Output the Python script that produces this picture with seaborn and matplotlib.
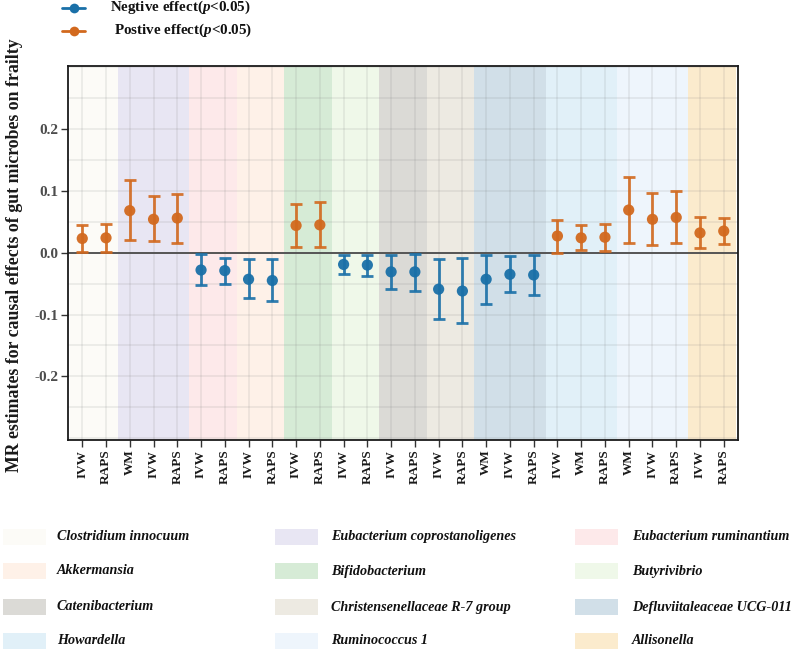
import matplotlib
matplotlib.use("Agg")
import matplotlib.pyplot as plt
import seaborn as sns
import numpy as np
import pandas as pd
from matplotlib.lines import Line2D
from matplotlib.patches import Rectangle

# ---------------- data ----------------
groups = ["Clostridium innocuum", "Eubacterium coprostanoligenes", "Eubacterium ruminantium",
          "Akkermansia", "Bifidobacterium", "Butyrivibrio",
          "Catenibacterium", "Christensenellaceae R-7 group", "Defluviitaleaceae UCG-011",
          "Howardella", "Ruminococcus 1", "Allisonella"]
group_colors = ["#FCFBF7", "#E8E6F3", "#FDE9EA",
                "#FEF1E8", "#D6EBD6", "#EFF8E9",
                "#DBDAD6", "#EDEAE2", "#D1DFE8",
                "#E1F0F8", "#EEF5FC", "#FBEBCD"]
point_group = [0, 0, 1, 1, 1, 2, 2, 3, 3, 4, 4, 5, 5, 6, 6, 7, 7, 8, 8, 8, 9, 9, 9, 10, 10, 10, 11, 11]
methods = ["IVW", "RAPS", "WM", "IVW", "RAPS", "IVW", "RAPS", "IVW", "RAPS", "IVW", "RAPS",
           "IVW", "RAPS", "IVW", "RAPS", "IVW", "RAPS", "WM", "IVW", "RAPS",
           "IVW", "WM", "RAPS", "WM", "IVW", "RAPS", "IVW", "RAPS"]
est = [0.023, 0.024, 0.068, 0.054, 0.056, -0.028, -0.029, -0.043, -0.045, 0.044, 0.045,
       -0.019, -0.020, -0.031, -0.031, -0.059, -0.062, -0.043, -0.035, -0.036,
       0.027, 0.024, 0.025, 0.069, 0.054, 0.057, 0.032, 0.035]
lower = [0.001, 0.001, 0.020, 0.019, 0.016, -0.052, -0.050, -0.074, -0.078, 0.010, 0.010,
         -0.035, -0.037, -0.059, -0.062, -0.108, -0.114, -0.083, -0.064, -0.068,
         0.000, 0.004, 0.002, 0.016, 0.013, 0.016, 0.008, 0.014]
upper = [0.044, 0.046, 0.117, 0.091, 0.095, -0.002, -0.009, -0.011, -0.010, 0.078, 0.082,
         -0.003, -0.003, -0.003, -0.002, -0.011, -0.009, -0.003, -0.005, -0.004,
         0.053, 0.044, 0.046, 0.123, 0.096, 0.099, 0.057, 0.056]
effect_labels = ["Negtive effect", "Postive effect"]
effect_colors = {"Negtive effect": "#1A70A8", "Postive effect": "#D2691E"}
ytick_vals = [-0.2, -0.1, 0.0, 0.1, 0.2]
ytick_labels = ["-0.2", "-0.1", "0.0", "0.1", "0.2"]
ylabel = "MR estimates for causal effects of gut microbes on frailty"

df = pd.DataFrame({"x": np.arange(len(est)), "method": methods, "est": est,
                   "lower": lower, "upper": upper,
                   "group": [groups[g] for g in point_group]})
df["effect"] = np.where(df["est"] < 0, effect_labels[0], effect_labels[1])

# ---------------- style ----------------
sns.set_theme(style="white")
plt.rcParams["font.family"] = ["Liberation Serif", "DejaVu Serif"]
plt.rcParams["font.weight"] = "bold"
plt.rcParams["mathtext.fontset"] = "custom"
plt.rcParams["mathtext.it"] = "Liberation Serif:italic:bold"
plt.rcParams["mathtext.rm"] = "Liberation Serif:bold"

W, H = 800, 655
fig = plt.figure(figsize=(W / 100, H / 100), dpi=100)
fig.patch.set_facecolor("white")
ax = fig.add_axes([68 / W, 1 - 440 / H, 670 / W, 374 / H])
ax.set_facecolor("white")

x0, x1 = -0.6, len(est) - 1 + 0.6
ax.set_xlim(x0, x1)
ax.set_ylim(-0.303, 0.302)

# background bands per group
pg = np.array(point_group)
for gi, (g, c) in enumerate(zip(groups, group_colors)):
    idx = np.where(pg == gi)[0]
    a = max(idx.min() - 0.5, x0)
    b = min(idx.max() + 0.5, x1)
    ax.axvspan(a, b, color=c, zorder=0, lw=0)

# grid
ax.set_yticks(ytick_vals)
ax.set_yticks(np.arange(-0.3, 0.301, 0.05), minor=True)
ax.set_xticks(df["x"])
ax.grid(True, which="both", axis="y", color=(0.45, 0.45, 0.45), alpha=0.13, lw=1.2, zorder=0.5)
ax.grid(True, which="major", axis="x", color=(0.45, 0.45, 0.45), alpha=0.13, lw=1.2, zorder=0.5)
ax.tick_params(axis="y", which="minor", length=0)

ax.axhline(0, color="#555555", lw=1.4, zorder=1)

# error bars and points
for eff, sub in df.groupby("effect"):
    ax.errorbar(sub["x"], sub["est"],
                yerr=[sub["est"] - sub["lower"], sub["upper"] - sub["est"]],
                fmt="none", ecolor=effect_colors[eff], elinewidth=2.0,
                capsize=4.5, capthick=2.0, alpha=0.9, zorder=3)
sns.scatterplot(data=df, x="x", y="est", hue="effect", palette=effect_colors,
                s=65, edgecolor="none", alpha=0.95, legend=False, zorder=4, ax=ax)

ax.set_xlabel("")
ax.set_ylabel("")
ax.set_xticklabels(df["method"], rotation=90, fontsize=9.5, fontweight="bold",
                   color="#1a1a1a", va="top")
ax.set_yticklabels(ytick_labels, fontsize=11, fontweight="bold", color="#4D4D4D")
ax.tick_params(axis="both", which="major", direction="out", length=5, width=1,
               color="#333333", pad=2, bottom=True, left=True)
for s in ax.spines.values():
    s.set_color("#1a1a1a")
    s.set_linewidth(1.3)
    s.set_visible(True)

fig.text(15 / W, 1 - 255 / H, ylabel, rotation=90, ha="center", va="center",
         fontsize=12.8, fontweight="bold", color="#1a1a1a")

# top legend (effect)
top_rows_y = [7.5, 30.5]
top_text_x = [110, 114]
for lab, yy, tx in zip(effect_labels, top_rows_y, top_text_x):
    col = effect_colors[lab]
    fy = 1 - yy / H
    fig.add_artist(Line2D([62 / W, 85 / W], [fy, fy], transform=fig.transFigure,
                          color=col, lw=2))
    fig.add_artist(Line2D([73.5 / W], [fy], transform=fig.transFigure, color=col,
                          marker="o", markersize=7, markeredgecolor="none"))
    fig.text(tx / W, fy, lab + r"($\mathit{p}$<0.05)", ha="left", va="center",
             fontsize=10.8, fontweight="bold", color="#111111")

# bottom legend (groups) - row-wise, 3 columns
col_patch_x = [3, 275, 575]
col_text_x = [57, 331, 632]
row_y = [536.5, 571, 607, 641]
for gi, (g, c) in enumerate(zip(groups, group_colors)):
    r, k = divmod(gi, 3)
    cy = row_y[r]
    fig.add_artist(Rectangle((col_patch_x[k] / W, 1 - (cy + 8) / H), 43 / W, 16 / H,
                             transform=fig.transFigure, facecolor=c, edgecolor="none"))
    fig.text(col_text_x[k] / W, 1 - cy / H, g, ha="left", va="center",
             fontsize=10.2, fontweight="bold", fontstyle="italic", color="#111111")

fig.savefig("out.png", dpi=100, facecolor="white")
